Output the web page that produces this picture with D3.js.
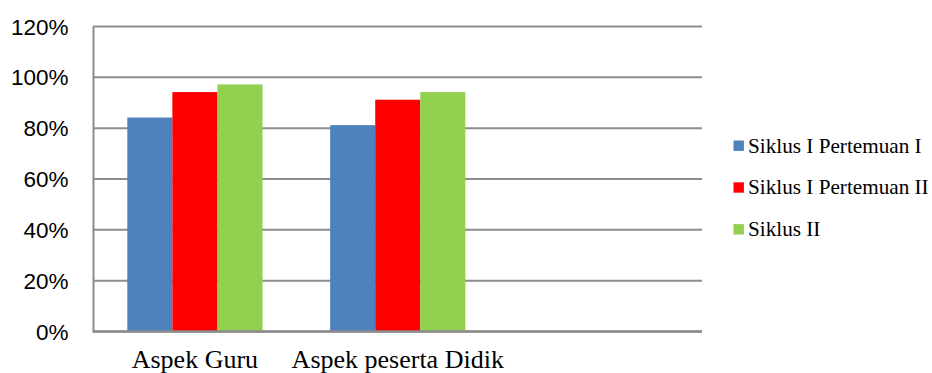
<!DOCTYPE html>
<html>
<head>
<meta charset="utf-8">
<script src="https://cdn.jsdelivr.net/npm/d3@7"></script>
<style>
  html, body { margin: 0; padding: 0; background: #fff; }
  svg { display: block; }
</style>
</head>
<body>
<svg id="chart" width="932" height="373"></svg>
<script>
// Categories (the third slot is an empty category in the source sheet)
const categories = ["Aspek Guru", "Aspek peserta Didik", ""];
const seriesNames = ["Siklus I Pertemuan I", "Siklus I Pertemuan II", "Siklus II"];
// Percentages per series, one value per category (null = no bar)
const siklus1Pertemuan1 = [84, 81, null];
const siklus1Pertemuan2 = [94, 91, null];
const siklus2 = [97, 94, null];
const seriesColors = ["#4F81BD", "#FF0000", "#92D050"];
const yTicks = [0, 20, 40, 60, 80, 100, 120];

const seriesValues = [siklus1Pertemuan1, siklus1Pertemuan2, siklus2];

const svg = d3.select("#chart");
const plot = { left: 93.5, right: 702, top: 26, bottom: 331 };

const x0 = d3.scaleBand()
  .domain(d3.range(categories.length))
  .range([plot.left, plot.right])
  .paddingInner(0).paddingOuter(0);
const bw = x0.bandwidth();
const x1 = d3.scaleBand()
  .domain(seriesNames)
  .range([bw / 6, bw * 5 / 6])
  .padding(0);
const y = d3.scaleLinear().domain([0, 120]).range([plot.bottom, plot.top]);

// Horizontal gridlines with percent labels
const yAxis = d3.axisLeft(y)
  .tickValues(yTicks)
  .tickFormat(d => d + "%")
  .tickSizeInner(-(plot.right - plot.left))
  .tickSizeOuter(0)
  .tickPadding(25);

const gy = svg.append("g")
  .attr("transform", `translate(${plot.left},0)`)
  .call(yAxis);
gy.select(".domain").remove();
gy.selectAll(".tick line").attr("stroke", "#8c8c8c").attr("stroke-width", 2);
gy.selectAll(".tick text")
  .attr("fill", "#000")
  .attr("font-family", "'Liberation Sans', Arial, sans-serif")
  .attr("font-size", 22.5)
  .attr("dy", "0.36em");

// Bars
const groups = svg.append("g").selectAll("g")
  .data(categories.map((c, i) => i))
  .join("g")
  .attr("transform", i => `translate(${x0(i)},0)`);

groups.selectAll("rect")
  .data(i => seriesNames.map((s, k) => ({ s, k, v: seriesValues[k][i] })).filter(d => d.v != null))
  .join("rect")
  .attr("x", d => x1(d.s))
  .attr("width", x1.bandwidth())
  .attr("y", d => y(d.v))
  .attr("height", d => y(0) - y(d.v))
  .attr("fill", d => seriesColors[d.k]);

// Axis lines
svg.append("line")
  .attr("x1", plot.left).attr("x2", plot.left)
  .attr("y1", plot.top).attr("y2", plot.bottom + 1)
  .attr("stroke", "#8c8c8c").attr("stroke-width", 2);
svg.append("line")
  .attr("x1", plot.left - 1).attr("x2", plot.right)
  .attr("y1", plot.bottom + 0.5).attr("y2", plot.bottom + 0.5)
  .attr("stroke", "#8c8c8c").attr("stroke-width", 2.5);

// Category labels
svg.append("g").selectAll("text")
  .data(categories.map((c, i) => ({ c, i })))
  .join("text")
  .attr("x", d => x0(d.i) + bw / 2)
  .attr("y", 367.5)
  .attr("text-anchor", "middle")
  .attr("font-family", "'Liberation Serif', 'Times New Roman', serif")
  .attr("font-size", 26)
  .attr("fill", "#000")
  .text(d => d.c);

// Legend
const legend = svg.append("g").selectAll("g")
  .data(seriesNames)
  .join("g")
  .attr("transform", (d, k) => `translate(733.5,${145.7 + k * 41.8})`);
legend.append("rect")
  .attr("x", 0).attr("y", -5.2)
  .attr("width", 10.4).attr("height", 10.4)
  .attr("fill", (d, k) => seriesColors[k]);
legend.append("text")
  .attr("x", 14.5).attr("y", 6.8)
  .attr("font-family", "'Liberation Serif', 'Times New Roman', serif")
  .attr("font-size", 21.2)
  .attr("fill", "#000")
  .text(d => d);
</script>
</body>
</html>
